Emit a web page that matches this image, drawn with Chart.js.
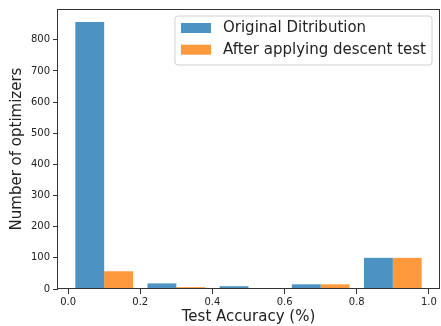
<!DOCTYPE html>
<html>
<head>
<meta charset="utf-8">
<script src="https://cdn.jsdelivr.net/npm/chart.js@4"></script>
<style>
  html, body { margin: 0; padding: 0; background: #fff; }
  canvas { display: block; }
</style>
</head>
<body>
<canvas id="c" width="441" height="326"></canvas>
<script>
// ---- data ----
const binCenters = [0.1, 0.3, 0.5, 0.7, 0.9];
const originalCounts = [857, 18, 9, 15, 100];
const afterTestCounts = [57, 6, 3, 15, 100];
const seriesLabels = ['Original Ditribution', 'After applying descent test'];
const xTickValues = [0.0, 0.2, 0.4, 0.6, 0.8, 1.0];
const yTickValues = [0, 100, 200, 300, 400, 500, 600, 700, 800];
const xAxisTitle = 'Test Accuracy (%)';
const yAxisTitle = 'Number of optimizers';

const FONT = 'DejaVu Sans';
Chart.defaults.font.family = FONT;
Chart.defaults.color = '#222';

const toPoints = (vals) => binCenters.map((x, i) => ({ x: x, y: vals[i] }));

const frame = {
  id: 'frame',
  afterDatasetsDraw(chart) {
    const { ctx, chartArea: a } = chart;
    ctx.save();
    ctx.strokeStyle = '#333';
    ctx.lineWidth = 1;
    ctx.strokeRect(Math.round(a.left) - 0.5, Math.round(a.top) + 0.5,
                   Math.round(a.right - a.left) + 1, Math.round(a.bottom - a.top) - 1);
    ctx.restore();
  }
};

const insideLegend = {
  id: 'insideLegend',
  afterDraw(chart) {
    const { ctx, chartArea: a } = chart;
    const fs = 15;
    ctx.save();
    ctx.font = fs + 'px "' + FONT + '"';
    const ds = chart.data.datasets;
    let maxW = 0;
    ds.forEach(d => { maxW = Math.max(maxW, ctx.measureText(d.label).width); });
    const padL = 6, swW = 30, swH = 10, gap = 12, padR = 6;
    const w = padL + swW + gap + maxW + padR;
    const h = 49;
    const right = a.right - 7;
    const left = right - w;
    const top = a.top + 7;
    ctx.beginPath();
    const r = 3;
    ctx.moveTo(left + r, top);
    ctx.lineTo(left + w - r, top);
    ctx.arcTo(left + w, top, left + w, top + r, r);
    ctx.lineTo(left + w, top + h - r);
    ctx.arcTo(left + w, top + h, left + w - r, top + h, r);
    ctx.lineTo(left + r, top + h);
    ctx.arcTo(left, top + h, left, top + h - r, r);
    ctx.lineTo(left, top + r);
    ctx.arcTo(left, top, left + r, top, r);
    ctx.closePath();
    ctx.fillStyle = 'rgba(255,255,255,0.8)';
    ctx.fill();
    ctx.strokeStyle = '#d0d0d0';
    ctx.lineWidth = 1;
    ctx.stroke();
    ds.forEach((d, i) => {
      const cy = top + 12 + i * 21.7;
      ctx.fillStyle = d.backgroundColor;
      ctx.fillRect(left + padL, cy - swH / 2, swW, swH);
      ctx.fillStyle = '#222';
      ctx.textBaseline = 'middle';
      ctx.textAlign = 'left';
      ctx.fillText(d.label, left + padL + swW + gap, cy + 0.5);
    });
    ctx.restore();
  }
};

new Chart(document.getElementById('c'), {
  type: 'bar',
  data: {
    datasets: [
      { label: seriesLabels[0], data: toPoints(originalCounts),
        backgroundColor: 'rgba(31,119,180,0.8)', borderWidth: 0 },
      { label: seriesLabels[1], data: toPoints(afterTestCounts),
        backgroundColor: 'rgba(255,127,14,0.8)', borderWidth: 0 }
    ]
  },
  options: {
    responsive: false,
    animation: false,
    devicePixelRatio: 1,
    categoryPercentage: 0.8,
    barPercentage: 1.0,
    layout: { padding: { left: 0, right: 2, top: 5, bottom: 0 } },
    plugins: { legend: { display: false }, tooltip: { enabled: false } },
    scales: {
      x: {
        type: 'linear',
        offset: false,
        min: -0.028,
        max: 1.028,
        border: { display: false },
        grid: { offset: false, drawOnChartArea: false, drawTicks: true, tickLength: 5, color: '#333' },
        afterBuildTicks(scale) { scale.ticks = xTickValues.map(v => ({ value: v })); },
        ticks: {
          maxRotation: 0,
          autoSkip: false,
          padding: 2,
          font: { size: 10 },
          callback: (v) => Number(v).toFixed(1)
        },
        title: { display: true, text: xAxisTitle, font: { size: 15 }, padding: { top: 0, bottom: 0 } },
        afterFit(scale) { scale.height = 37; }
      },
      y: {
        min: 0,
        max: 899,
        border: { display: false },
        grid: { offset: false, drawOnChartArea: false, drawTicks: true, tickLength: 5, color: '#333' },
        afterBuildTicks(scale) { scale.ticks = yTickValues.map(v => ({ value: v })); },
        ticks: { padding: 3, font: { size: 10 } },
        title: { display: true, text: yAxisTitle, font: { size: 15 }, padding: { top: 8, bottom: 0 } },
        afterFit(scale) { scale.width = 58; }
      }
    }
  },
  plugins: [frame, insideLegend]
});
</script>
</body>
</html>
